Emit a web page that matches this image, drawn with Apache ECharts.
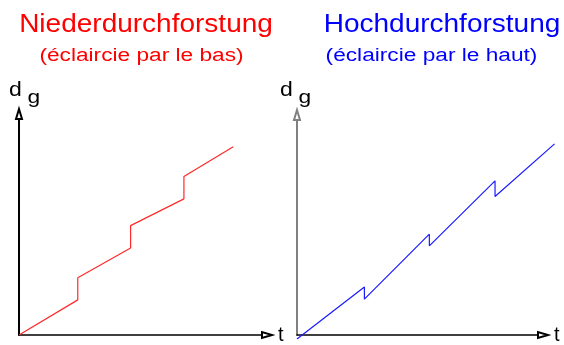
<!DOCTYPE html>
<html>
<head>
<meta charset="utf-8">
<script src="https://cdn.jsdelivr.net/npm/echarts@6/dist/echarts.min.js"></script>
<style>
  html, body { margin: 0; padding: 0; background: #fff; }
  #main { width: 564px; height: 345px; }
</style>
</head>
<body>
<div id="main"></div>
<script>
// Titel (oben)
var titles = ['Niederdurchforstung', 'Hochdurchforstung'];
var subtitles = ['(éclaircie par le bas)', '(éclaircie par le haut)'];

// Niederdurchforstung: dg springt bei jedem Eingriff nach oben
var lowT = [0, 23.7, 23.7, 45.0, 45.0, 66.5, 66.5, 86.4];
var lowDg = [0, 15.9, 25.9, 39.4, 49.5, 61.6, 71.7, 85.2];

// Hochdurchforstung: dg fällt bei jedem Eingriff leicht ab
var highT = [0, 27.4, 27.4, 53.8, 53.8, 80.5, 80.5, 104.7];
var highDg = [0, 23.2, 17.8, 46.8, 41.6, 70.6, 63.6, 87.1];

function pairs(xs, ys) {
	var out = [];
	for (var i = 0; i < xs.length; i++) {
		out.push([xs[i], ys[i]]);
	}
	return out;
}

var myChart = echarts.init(document.getElementById('main'));

var font = '"Liberation Sans", Arial, sans-serif';

// Achse ohne Ticks/Labels, nur Linie mit offenem Pfeil
function axis(idx, color, width, name, isX, max) {
	var a = {
		type: 'value',
		gridIndex: idx,
		min: 0,
		max: max || 100,
		axisTick: { show: false },
		axisLabel: { show: false },
		splitLine: { show: false },
		axisLine: {
			show: !!color,
			onZero: false,
			symbol: ['none', 'emptyTriangle'],
			symbolSize: [6, 10],
			lineStyle: { color: color || '#000', width: width }
		}
	};
	if (isX) {
		a.name = name;
		a.nameLocation = 'end';
		a.nameGap = 11;
		a.nameTextStyle = { color: '#000', fontSize: 20, fontFamily: font };
	}
	return a;
}

// Text mit horizontaler Streckung (Original wirkt breit gezogen)
function label(text, x, y, size, color, sx, align) {
	return {
		type: 'text',
		x: x,
		y: y,
		scaleX: sx,
		style: {
			text: text,
			font: size + 'px ' + font,
			fill: color,
			align: align || 'center',
			verticalAlign: 'middle'
		}
	};
}

option = {
	backgroundColor: '#fff',
	animation: false,
	grid: [
		{ left: 19, top: 114, width: 248, height: 225 },
		{ left: 297, top: 115, width: 246, height: 224 },
		// gleiche Skala wie Grid 1, nur breiter: die blaue Linie ragt über den Pfeil hinaus
		{ left: 297, top: 115, width: 258.3, height: 224 }
	],
	xAxis: [
		axis(0, '#000', 1.5, 't', true),
		axis(1, '#000', 1.5, 't', true),
		axis(2, null, 1, '', false, 105)
	],
	yAxis: [
		axis(0, '#000', 2, '', false),
		axis(1, '#808080', 2, '', false),
		axis(2, null, 1, '', false)
	],
	graphic: [
		label(titles[0], 146, 25.3, 25, '#ff0000', 1.12),
		label(subtitles[0], 141.5, 56.4, 18, '#ff0000', 1.26),
		label(titles[1], 442, 25.3, 25, '#0000ff', 1.12),
		label(subtitles[1], 431.5, 56.4, 18, '#0000ff', 1.26),
		label('d', 9, 90.5, 20, '#000', 1.15, 'left'),
		label('g', 27.5, 97.5, 19, '#000', 1.2, 'left'),
		label('d', 280, 90.5, 20, '#000', 1.15, 'left'),
		label('g', 298.5, 97.5, 19, '#000', 1.2, 'left')
	],
	series: [
		{
			type: 'line',
			xAxisIndex: 0,
			yAxisIndex: 0,
			data: pairs(lowT, lowDg),
			showSymbol: false,
			lineStyle: { color: '#ff2a2a', width: 1.2 }
		},
		{
			type: 'line',
			xAxisIndex: 2,
			yAxisIndex: 2,
			data: pairs(highT, highDg),
			showSymbol: false,
			lineStyle: { color: '#1a1aff', width: 1.2 }
		}
	]
};

myChart.setOption(option);
</script>
</body>
</html>
